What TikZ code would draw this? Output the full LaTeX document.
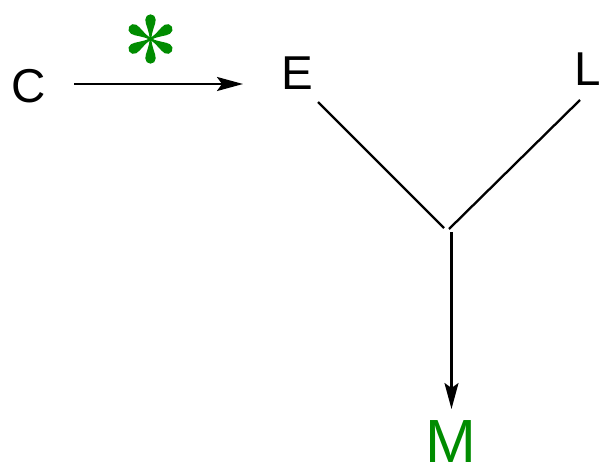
\documentclass[tikz,border=0pt]{standalone}
\usepackage{fontspec}
\setmainfont{Liberation Sans}
\usetikzlibrary{arrows.meta}
\definecolor{leafgreen}{RGB}{0,140,0}
\tikzset{
  label/.style={anchor=base west, inner sep=0pt, text depth=0pt, font=\fontsize{47.5}{50}\selectfont},
  biglabel/.style={anchor=base west, inner sep=0pt, text depth=0pt, font=\fontsize{61}{64}\selectfont, text=leafgreen},
  bond/.style={line width=2.3pt, line cap=butt},
  arr/.style={bond, -{Stealth[length=26pt, width=14pt, inset=5pt]}},
  spoke/.pic={
    \fill[leafgreen] (0,-1) .. controls (9,-1.2) and (14,-5.2) .. (19.5,-5.2)
      arc[start angle=-90, end angle=90, radius=5.2]
      .. controls (14,5.2) and (9,1.2) .. (0,1) -- cycle;
  }
}
\begin{document}
\begin{tikzpicture}[x=1pt, y=-1pt]
  \useasboundingbox (0,0) rectangle (602,469);
  % species labels
  \node[label] (C) at (11.5,102) {C};
  \node[label] (E) at (281.5,89) {E};
  \node[label] (L) at (574,85) {L};
  \node[biglabel] (M) at (425.5,462) {M};
  % catalyst mark: six teardrop spokes
  \coordinate (star) at (150.5,39);
  \foreach \a in {30,90,150,210,270,330}
    \pic[rotate=\a] at (star) {spoke};
  \fill[leafgreen] (star) circle[radius=2];
  % connector ends
  \coordinate (cStart) at (74,84);
  \coordinate (cEnd) at (243,84);
  \coordinate (eFoot) at (318,102);
  \coordinate (lFoot) at (580,100);
  \coordinate (jE) at (444,228);
  \coordinate (jL) at (449,229);
  \coordinate (jTop) at (451.5,232);
  \coordinate (mTop) at (451.5,409);
  % connectors
  \draw[arr] (cStart) -- (cEnd);
  \draw[bond] (eFoot) -- (jE);
  \draw[bond] (lFoot) -- (jL);
  \draw[arr] (jTop) -- (mTop);
\end{tikzpicture}
\end{document}
